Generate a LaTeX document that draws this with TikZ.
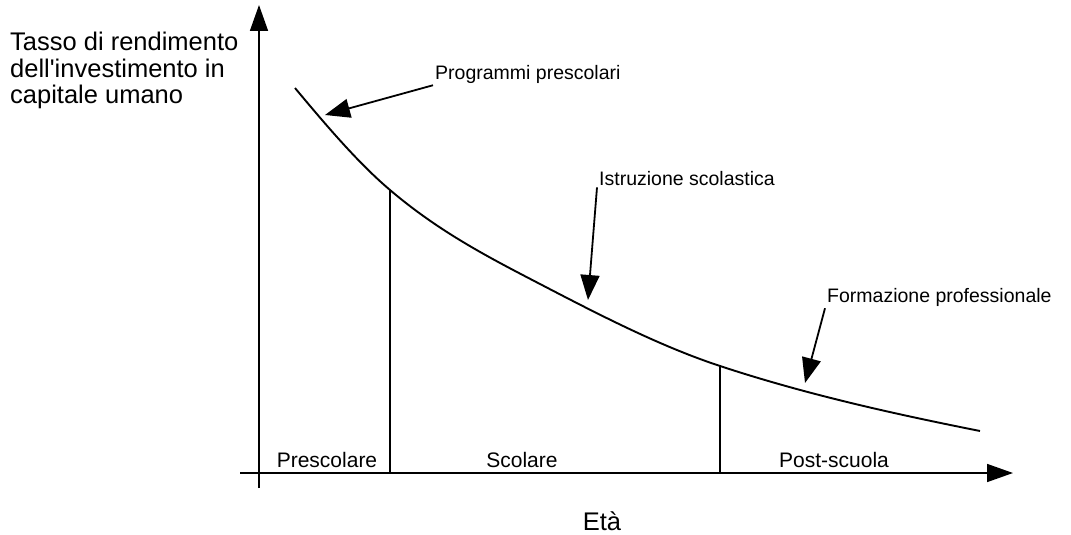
\documentclass[tikz,border=0pt]{standalone}
\usepackage{fontspec}
\setmainfont{Liberation Sans}
\usetikzlibrary{arrows.meta}

\begin{document}
\begin{tikzpicture}[x=1pt, y=-1pt,
  axis/.style={line width=1.6pt, -{Triangle[length=26pt, width=18pt]}},
  pointer/.style={line width=1.8pt, -{Triangle[length=25pt, width=19pt]}},
  divider/.style={line width=1.1pt},
  curveline/.style={line width=1.9pt},
  note/.style={inner sep=2pt, anchor=base west, font=\fontsize{19.5}{22}\selectfont},
  phase/.style={inner sep=0pt, anchor=base, font=\fontsize{21}{24}\selectfont},
  axislabel/.style={inner sep=0pt, font=\fontsize{25.5}{26.5}\selectfont}]
  \useasboundingbox (0,0) rectangle (1071,535);
  % axes
  \coordinate (yfoot) at (259,488);
  \coordinate (ytop)  at (259,5);
  \coordinate (xfoot) at (240,473);
  \coordinate (xend)  at (1013,473);
  \draw[axis] (yfoot) -- (ytop);
  \draw[axis] (xfoot) -- (xend);
  \node[axislabel, anchor=north west, align=left] (ylab) at (10,32)
    {Tasso di rendimento\\dell\textquotesingle investimento in\\capitale umano};
  \node[axislabel, anchor=base] (xlab) at (602,530) {Età};
  % rate of return curve
  \coordinate (c1) at (390,190);
  \coordinate (c2) at (720,366);
  \draw[curveline] (295,88) .. controls (326.7,126) and (358.3,163.1) .. (c1)
    .. controls (440,232.5) and (490,258) .. (540,284)
    .. controls (600,315.2) and (660,346.2) .. (c2)
    .. controls (806.7,394.6) and (893.3,413.7) .. (980,431);
  % phase boundaries
  \coordinate (b1) at (390,473);
  \coordinate (b2) at (720,473);
  \draw[divider] (b1) -- (c1);
  \draw[divider] (b2) -- (c2);
  \node[phase] (pre)  at (327,467) {Prescolare};
  \node[phase] (sco)  at (522,467) {Scolare};
  \node[phase] (post) at (834,467) {Post-scuola};
  % annotations
  \node[note] (prog) at (433,79)  {Programmi prescolari};
  \node[note] (istr) at (597,185) {Istruzione scolastica};
  \node[note] (form) at (825,302) {Formazione professionale};
  \coordinate (progtip) at (325,115);
  \coordinate (istrtip) at (588,300);
  \coordinate (formtip) at (805,383);
  \draw[pointer] (prog.south west) -- (progtip);
  \draw[pointer] (istr.south west) -- (istrtip);
  \draw[pointer] (form.south west) -- (formtip);
\end{tikzpicture}
\end{document}
